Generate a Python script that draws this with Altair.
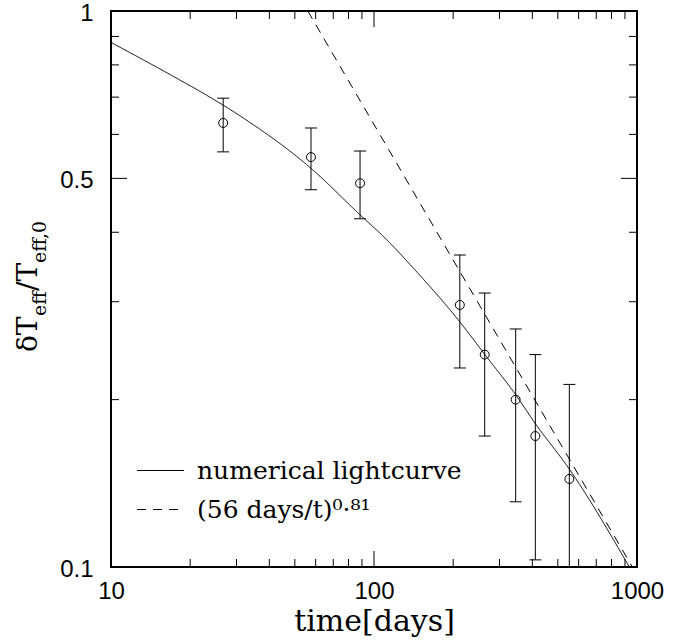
import altair as alt
import pandas as pd

# ---------------- data ----------------
obs_t = [26.7, 57.6, 88.5, 212, 263.6, 345.7, 410.6, 553]
obs_v = [0.629, 0.546, 0.490, 0.296, 0.241, 0.200, 0.172, 0.144]
obs_hi = [0.697, 0.616, 0.560, 0.364, 0.311, 0.268, 0.241, 0.213]
obs_lo = [0.558, 0.477, 0.423, 0.228, 0.172, 0.131, 0.103, 0.080]

curve_t = [10, 17.5, 23.4, 30.9, 57.4, 88.5, 108, 150, 212, 264, 346, 411, 553, 935]
curve_v = [0.878, 0.760, 0.703, 0.648, 0.522, 0.430, 0.394, 0.334, 0.276, 0.241,
           0.204, 0.181, 0.150, 0.100]

fit_t = [56, 960]
fit_v = [1.0, 0.1]

series_names = ["numerical lightcurve", "(56 days/t)\u2070\u00b7\u2078\u00b9"]

x_labels = [10, 100, 1000]
y_labels = [0.1, 0.5, 1.0]
x_major = [10, 100, 1000]
x_minor = [20, 30, 40, 50, 60, 70, 80, 90, 200, 300, 400, 500, 600, 700, 800, 900]
y_major = [0.1, 0.5, 1.0]
y_minor = [0.2, 0.3, 0.4, 0.6, 0.7, 0.8, 0.9]

# ---------------- tables ----------------
obs_df = pd.DataFrame({"t": obs_t, "v": obs_v, "hi": obs_hi, "lo": obs_lo})
lines_df = pd.concat([
    pd.DataFrame({"t": curve_t, "v": curve_v, "series": series_names[0]}),
    pd.DataFrame({"t": fit_t, "v": fit_v, "series": series_names[1]}),
])
xmaj_df = pd.DataFrame({"t": x_major})
xmin_df = pd.DataFrame({"t": x_minor})
ymaj_df = pd.DataFrame({"v": y_major})
ymin_df = pd.DataFrame({"v": y_minor})

W, H = 526, 556
MAJ, MIN = 16, 8

xs = alt.Scale(type="log", domain=[10, 1000], nice=False)
ys = alt.Scale(type="log", domain=[0.1, 1.0], nice=False)

x_axis = alt.Axis(values=x_labels, format="d", labelFont="Liberation Sans", labelFontSize=24,
                  labelColor="black", labelFlush=False, labelOverlap=False, ticks=False,
                  domain=False, grid=False, labelPadding=12, title="time[days]",
                  titleFont="DejaVu Serif", titleFontSize=30, titleFontWeight="normal",
                  titleColor="black", titlePadding=3)
y_axis = alt.Axis(values=y_labels, format="~g", labelFont="Liberation Sans", labelFontSize=24,
                  labelColor="black", labelOverlap=False, ticks=False, domain=False, grid=False,
                  labelPadding=18, labelOffset=2, title="")

X = alt.X("t:Q", scale=xs, axis=x_axis, title="time[days]")
Y = alt.Y("v:Q", scale=ys, axis=y_axis, title="")

lines = alt.Chart(lines_df).mark_line(clip=True, color="black", strokeWidth=1,
                                      interpolate="monotone").encode(
    x=X,
    y=Y,
    strokeDash=alt.StrokeDash(
        "series:N",
        scale=alt.Scale(domain=series_names, range=[[1, 0], [9, 7]]),
        legend=alt.Legend(orient="none", legendX=37, legendY=447, title="",
                          symbolType="M-2,0H2", symbolSize=552, symbolStrokeColor="black",
                          symbolStrokeWidth=1, symbolFillColor="transparent",
                          labelFont="DejaVu Serif", labelFontSize=25, labelColor="black",
                          labelOffset=24, rowPadding=13, padding=0, labelLimit=400),
    ),
)

errbars = alt.Chart(obs_df).mark_rule(clip=True, color="black", strokeWidth=1).encode(
    x=X, y=alt.Y("lo:Q", scale=ys, axis=y_axis, title=""), y2="hi:Q",
)
cap_hi = alt.Chart(obs_df).mark_rule(clip=True, color="black", strokeWidth=1,
                                     xOffset=-6, x2Offset=6).encode(
    x=X, x2="t:Q", y=alt.Y("hi:Q", scale=ys, axis=y_axis, title=""),
)
cap_lo = alt.Chart(obs_df).mark_rule(clip=True, color="black", strokeWidth=1,
                                     xOffset=-6, x2Offset=6).encode(
    x=X, x2="t:Q", y=alt.Y("lo:Q", scale=ys, axis=y_axis, title=""),
)
points = alt.Chart(obs_df).mark_point(shape="circle", size=80, filled=False, color="black",
                                      strokeWidth=1, clip=True, opacity=1).encode(
    x=X, y=Y,
)


def xticks(df, length):
    b = alt.Chart(df).mark_rule(color="black", strokeWidth=1).encode(
        x=X, y=alt.value(H), y2=alt.value(H - length))
    t = alt.Chart(df).mark_rule(color="black", strokeWidth=1).encode(
        x=X, y=alt.value(0), y2=alt.value(length))
    return [b, t]


def yticks(df, length):
    l = alt.Chart(df).mark_rule(color="black", strokeWidth=1).encode(
        y=Y, x=alt.value(0), x2=alt.value(length))
    r = alt.Chart(df).mark_rule(color="black", strokeWidth=1).encode(
        y=Y, x=alt.value(W), x2=alt.value(W - length))
    return [l, r]


tick_layers = xticks(xmaj_df, MAJ) + xticks(xmin_df, MIN) + yticks(ymaj_df, MAJ) + yticks(ymin_df, MIN)

# y-axis title built from pieces (subscripts)
one = alt.Data(values=[{}])
MAIN_F, SUB_F = 28, 19
ytitle_pieces = [
    ("\u03b4T", MAIN_F, -74, 341),
    ("eff", SUB_F, -65, 305),
    ("/T", MAIN_F, -74, 280),
    ("eff,0", SUB_F, -65, 252),
]
title_layers = [
    alt.Chart(one).mark_text(angle=270, align="left", baseline="alphabetic",
                             font="DejaVu Serif", fontSize=fs, color="black").encode(
        x=alt.value(px), y=alt.value(py), text=alt.value(txt))
    for txt, fs, px, py in ytitle_pieces
]

chart = alt.layer(lines, errbars, cap_hi, cap_lo, points, *tick_layers, *title_layers).properties(
    width=W, height=H,
    autosize=alt.AutoSizeParams(type="none"),
    padding={"left": 111, "top": 11, "right": 60, "bottom": 73},
).configure_view(stroke="black", strokeWidth=2)

chart.save("out.html", embed_options={"renderer": "svg", "actions": False})
